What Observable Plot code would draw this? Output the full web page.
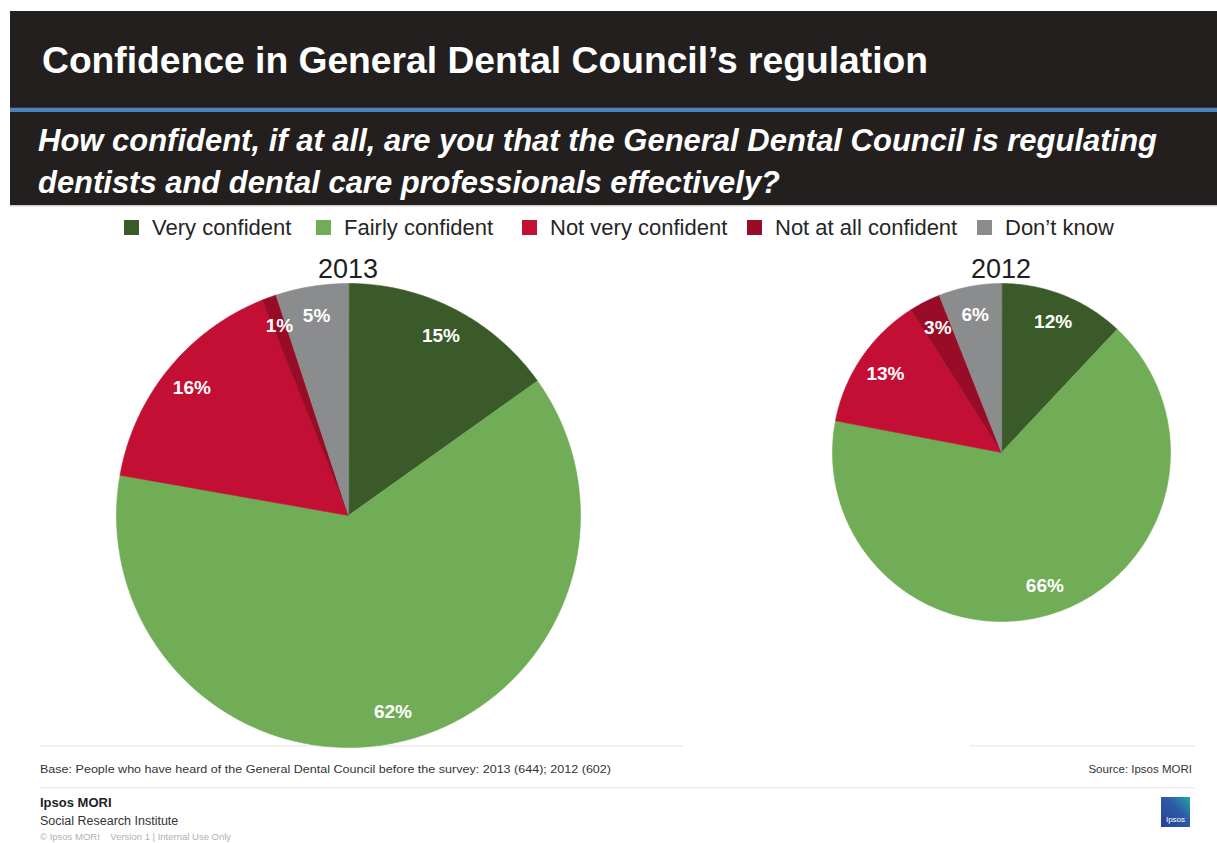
<!DOCTYPE html>
<html>
<head>
<meta charset="utf-8">
<script src="https://cdn.jsdelivr.net/npm/d3@7"></script>
<script src="https://cdn.jsdelivr.net/npm/@observablehq/plot@0.6"></script>
<style>
  html, body { margin: 0; padding: 0; background: #fff; }
  body { font-family: "Liberation Sans", Arial, sans-serif; }
  #slide { position: relative; width: 1217px; height: 843px; overflow: hidden; }
  .abs { position: absolute; }
  #legendWrap { left: 124px; top: 211px; width: 1000px; height: 34px; overflow: visible; }
  .lg-swatches { font-family: "Liberation Sans", Arial, sans-serif !important; font-size: 22px !important; color: #262626 !important; margin: 0 !important; flex-wrap: nowrap !important; white-space: nowrap; min-height: 33px; display: flex; align-items: center; }
  .lg-swatch { margin-right: 0 !important; flex: none; }
  .lg-swatch:nth-of-type(1) { width: 192px; }
  .lg-swatch:nth-of-type(2) { width: 206px; }
  .lg-swatch:nth-of-type(3) { width: 225px; }
  .lg-swatch:nth-of-type(4) { width: 230px; }
  .lg-swatch > svg { margin-right: 13px !important; }
  .year { font-family: "Liberation Sans", Arial, sans-serif; font-size: 27px; color: #1f1f1f; text-align: center; width: 120px; line-height: 27px; }
</style>
</head>
<body>
<div id="slide">
  <svg id="bg" class="abs" style="left:0;top:0" width="1217" height="843"></svg>
  <div id="legendWrap" class="abs"></div>
  <div id="y2013" class="abs year" style="left:288px;top:256px"></div>
  <div id="y2012" class="abs year" style="left:941px;top:256px"></div>
  <div id="pie2013" class="abs" style="left:116px;top:283px"></div>
  <div id="pie2012" class="abs" style="left:832px;top:283px"></div>
</div>
<script>
// ---- data ----
const categories = ["Very confident", "Fairly confident", "Not very confident", "Not at all confident", "Don\u2019t know"];
const colors = ["#3a5b29", "#70ad56", "#c30f33", "#990c27", "#8b8c8e"];
const years = ["2013", "2012"];
const values2013 = [15, 62, 16, 1, 5];
const values2012 = [12, 66, 13, 3, 6];
const titleText = "Confidence in General Dental Council\u2019s regulation";
const questionLines = [
  "How confident, if at all, are you that the General Dental Council is regulating",
  "dentists and dental care professionals effectively?"
];
const baseNote = "Base: People who have heard of the General Dental Council before the survey: 2013 (644); 2012 (602)";
const sourceNote = "Source: Ipsos MORI";
const footerLines = ["Ipsos MORI", "Social Research Institute", "\u00A9 Ipsos MORI    Version 1 | Internal Use Only"];

// ---- background slide decoration ----
const bg = d3.select("#bg");
bg.append("rect").attr("x", 10).attr("y", 11).attr("width", 1207).attr("height", 194).attr("fill", "#231f1e");
bg.append("rect").attr("x", 10).attr("y", 108).attr("width", 1207).attr("height", 4).attr("fill", "#4f82b8");
bg.append("rect").attr("x", 10).attr("y", 107).attr("width", 1207).attr("height", 1).attr("fill", "#2e3a46");
bg.append("rect").attr("x", 10).attr("y", 205).attr("width", 1207).attr("height", 1.5).attr("fill", "#cfcfcf");
bg.append("text").attr("x", 42).attr("y", 73).attr("fill", "#fff")
  .attr("font-family", "Liberation Sans, Arial, sans-serif").attr("font-weight", "bold").attr("font-size", 36)
  .attr("textLength", 886).attr("lengthAdjust", "spacingAndGlyphs").text(titleText);
const qLens = [1119, 742];
const qBase = [151, 193];
questionLines.forEach((t, i) => {
  bg.append("text").attr("x", 38).attr("y", qBase[i]).attr("fill", "#fff")
    .attr("font-family", "Liberation Sans, Arial, sans-serif").attr("font-weight", "bold").attr("font-style", "italic")
    .attr("font-size", 32).attr("textLength", qLens[i]).attr("lengthAdjust", "spacingAndGlyphs").text(t);
});
// separators
bg.append("rect").attr("x", 40).attr("y", 745).attr("width", 643).attr("height", 1.5).attr("fill", "#ececec");
bg.append("rect").attr("x", 970).attr("y", 745).attr("width", 225).attr("height", 1.5).attr("fill", "#ececec");
bg.append("rect").attr("x", 40).attr("y", 787).attr("width", 1155).attr("height", 1.5).attr("fill", "#ececec");
bg.append("text").attr("x", 40).attr("y", 773).attr("fill", "#333")
  .attr("font-family", "Liberation Sans, Arial, sans-serif").attr("font-size", 11.5)
  .attr("textLength", 571).attr("lengthAdjust", "spacingAndGlyphs").text(baseNote);
bg.append("text").attr("x", 1192).attr("y", 773).attr("fill", "#333").attr("text-anchor", "end")
  .attr("font-family", "Liberation Sans, Arial, sans-serif").attr("font-size", 11.5).text(sourceNote);
bg.append("text").attr("x", 40).attr("y", 807).attr("fill", "#222")
  .attr("font-family", "Liberation Sans, Arial, sans-serif").attr("font-weight", "bold").attr("font-size", 13).text(footerLines[0]);
bg.append("text").attr("x", 40).attr("y", 825).attr("fill", "#333")
  .attr("font-family", "Liberation Sans, Arial, sans-serif").attr("font-size", 12.5).text(footerLines[1]);
bg.append("text").attr("x", 40).attr("y", 840).attr("fill", "#b0b0b0")
  .attr("font-family", "Liberation Sans, Arial, sans-serif").attr("font-size", 9.5).attr("xml:space", "preserve").text(footerLines[2]);
// logo
const defs = bg.append("defs");
const g = defs.append("linearGradient").attr("id", "lg1").attr("x1", 0).attr("y1", 1).attr("x2", 1).attr("y2", 0);
g.append("stop").attr("offset", "0%").attr("stop-color", "#2b3f95");
g.append("stop").attr("offset", "60%").attr("stop-color", "#2b5da8");
g.append("stop").attr("offset", "100%").attr("stop-color", "#1fa7a4");
bg.append("rect").attr("x", 1161).attr("y", 797).attr("width", 29).attr("height", 30).attr("fill", "url(#lg1)");
bg.append("text").attr("x", 1175.5).attr("y", 822).attr("fill", "#fff").attr("text-anchor", "middle")
  .attr("font-family", "Liberation Sans, Arial, sans-serif").attr("font-size", 8).text("Ipsos");

// ---- legend ----
const legend = Plot.legend({
  color: {type: "categorical", domain: categories, range: colors},
  swatchSize: 15,
  className: "lg"
});
document.getElementById("legendWrap").appendChild(legend);

// ---- years ----
document.getElementById("y2013").textContent = years[0];
document.getElementById("y2012").textContent = years[1];

// ---- pies ----
function pieData(values) {
  const arcs = d3.pie().sort(null).value(d => d)(values);
  const poly = [];
  const labels = [];
  arcs.forEach((a, i) => {
    const cat = categories[i];
    poly.push({cat, x: 0, y: 0});
    const n = Math.max(2, Math.ceil((a.endAngle - a.startAngle) / 0.01));
    for (let k = 0; k <= n; k++) {
      const t = a.startAngle + (a.endAngle - a.startAngle) * k / n;
      poly.push({cat, x: Math.sin(t), y: Math.cos(t)});
    }
    labels.push({cat, value: values[i], mid: (a.startAngle + a.endAngle) / 2});
  });
  return {poly, labels};
}

function piePlot(values, size, labelR) {
  const {poly, labels} = pieData(values);
  return Plot.plot({
    width: size, height: size, margin: 0,
    x: {domain: [-1, 1], axis: null},
    y: {domain: [-1, 1], axis: null},
    color: {domain: categories, range: colors},
    style: {background: "transparent", overflow: "visible"},
    marks: [
      Plot.line(poly, {x: "x", y: "y", z: "cat", fill: "cat", stroke: "cat", strokeWidth: 0.6, curve: "linear-closed"}),
      Plot.text(labels, {
        x: d => Math.sin(d.mid) * labelR,
        y: d => Math.cos(d.mid) * labelR,
        text: d => d.value + "%",
        fill: "white", fontSize: 19, fontWeight: "bold",
        fontFamily: "Liberation Sans, Arial, sans-serif"
      })
    ]
  });
}

document.getElementById("pie2013").appendChild(piePlot(values2013, 464, 0.87));
document.getElementById("pie2012").appendChild(piePlot(values2012, 338, 0.83));
</script>
</body>
</html>
